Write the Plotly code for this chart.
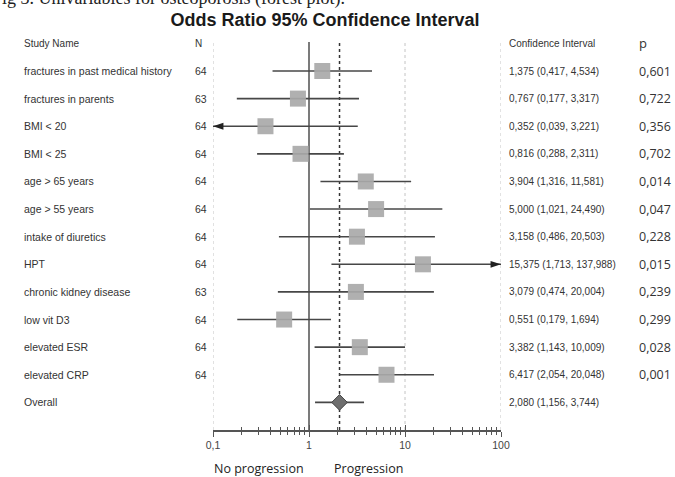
import plotly.graph_objects as go

# ---------------- data ----------------
studies = ["fractures in past medical history", "fractures in parents", "BMI < 20", "BMI < 25",
           "age > 65 years", "age > 55 years", "intake of diuretics", "HPT",
           "chronic kidney disease", "low vit D3", "elevated ESR", "elevated CRP"]
n_vals = [64, 63, 64, 64, 64, 64, 64, 64, 63, 64, 64, 64]
odds = [1.375, 0.767, 0.352, 0.816, 3.904, 5.000, 3.158, 15.375, 3.079, 0.551, 3.382, 6.417]
ci_low = [0.417, 0.177, 0.039, 0.288, 1.316, 1.021, 0.486, 1.713, 0.474, 0.179, 1.143, 2.054]
ci_high = [4.534, 3.317, 3.221, 2.311, 11.581, 24.490, 20.503, 137.988, 20.004, 1.694, 10.009, 20.048]
p_vals = ["0,601", "0,722", "0,356", "0,702", "0,014", "0,047", "0,228", "0,015",
          "0,239", "0,299", "0,028", "0,001"]
overall_label = "Overall"
overall_or = 2.080
overall_low = 1.156
overall_high = 3.744
null_value = 1
tick_vals = [0.1, 1, 10, 100]
tick_text = ["0,1", "1", "10", "100"]
headers = ["Study Name", "N", "Confidence Interval", "p"]
title_text = "Odds Ratio 95% Confidence Interval"
caption_text = "Fig 3. Univariables for osteoporosis (forest plot)."
left_label = "No progression"
right_label = "Progression"

x_min, x_max = 0.1, 100
minor_vals = [d * m for d in (0.1, 1, 10) for m in range(2, 10)]


def fmt(v):
    return f"{v:.3f}".replace(".", ",")


rows = list(range(1, len(studies) + 1))
overall_row = len(studies) + 1

LINE = "#474747"
TXT = "#333333"
SANS = "Liberation Sans, Arial, sans-serif"
OPEN = "Open Sans, sans-serif"

fig = go.Figure()

# CI lines
lx, ly = [], []
for r, lo, hi in zip(rows, ci_low, ci_high):
    lx += [lo, hi, None]
    ly += [r, r, None]
lx += [overall_low, overall_high, None]
ly += [overall_row, overall_row, None]
fig.add_trace(go.Scatter(x=lx, y=ly, mode="lines", line=dict(color=LINE, width=1.6),
                         hoverinfo="skip", showlegend=False))

# squares
fig.add_trace(go.Scatter(x=odds, y=rows, mode="markers",
                         marker=dict(symbol="square", size=16, color="#a9a9a9", opacity=0.92,
                                     line=dict(width=0)),
                         hoverinfo="skip", showlegend=False))

# overall diamond
fig.add_trace(go.Scatter(x=[overall_or], y=[overall_row], mode="markers",
                         marker=dict(symbol="diamond", size=12, color="#6e6e6e",
                                     line=dict(color="#444444", width=1)),
                         hoverinfo="skip", showlegend=False))

# arrows for CI beyond the axis range
ax_, ay_, aang = [], [], []
for r, lo, hi in zip(rows, ci_low, ci_high):
    if lo < x_min:
        ax_.append(x_min); ay_.append(r); aang.append(-90)
    if hi > x_max:
        ax_.append(x_max); ay_.append(r); aang.append(90)
fig.add_trace(go.Scatter(x=ax_, y=ay_, mode="markers", cliponaxis=False,
                         marker=dict(symbol="arrow", size=11, angle=aang, color="#222222",
                                     line=dict(width=0)),
                         hoverinfo="skip", showlegend=False))

# invisible trace on the overlay axis (for inside ticks)
fig.add_trace(go.Scatter(x=[overall_or], y=[overall_row], xaxis="x2", mode="markers",
                         marker=dict(opacity=0), hoverinfo="skip", showlegend=False))

# dotted guide lines at the decades (except the null line)
for tv in tick_vals:
    if tv != null_value:
        fig.add_shape(type="line", xref="x", yref="paper", x0=tv, x1=tv, y0=0, y1=1.005,
                      line=dict(color="#c4c4c4", width=1, dash="dot"), layer="below")
# reference lines
fig.add_shape(type="line", xref="x", yref="paper", x0=null_value, x1=null_value, y0=0, y1=1,
              line=dict(color="#5a5a5a", width=1.6), layer="below")
fig.add_shape(type="line", xref="x", yref="paper", x0=overall_or, x1=overall_or, y0=0, y1=1,
              line=dict(color="#333333", width=1.5, dash="dot"), layer="below")

# text columns
def px2paper(px):
    return (px - 213) / 288.0

anns = []
col_x = [px2paper(22), px2paper(193), px2paper(507), px2paper(637)]
for i, h in enumerate(headers):
    anns.append(dict(x=col_x[i], y=0, xref="paper", yref="y", text=h, showarrow=False,
                     xanchor="left", yanchor="middle",
                     font=dict(family=OPEN if i == 3 else SANS, size=13 if i == 3 else 10,
                               color=TXT)))
for r, s, n, o, lo, hi, p in zip(rows, studies, n_vals, odds, ci_low, ci_high, p_vals):
    anns.append(dict(x=col_x[0], y=r, xref="paper", yref="y", text=s, showarrow=False,
                     xanchor="left", yanchor="middle", font=dict(family=SANS, size=10.5, color=TXT)))
    anns.append(dict(x=col_x[1], y=r, xref="paper", yref="y", text=str(n), showarrow=False,
                     xanchor="left", yanchor="middle", font=dict(family=SANS, size=10.5, color=TXT)))
    anns.append(dict(x=col_x[2], y=r, xref="paper", yref="y",
                     text=f"{fmt(o)} ({fmt(lo)}, {fmt(hi)})", showarrow=False,
                     xanchor="left", yanchor="middle", font=dict(family=SANS, size=10, color=TXT)))
    anns.append(dict(x=col_x[3], y=r, xref="paper", yref="y", text=p, showarrow=False,
                     xanchor="left", yanchor="middle", font=dict(family=OPEN, size=12.5, color=TXT)))
anns.append(dict(x=col_x[0], y=overall_row, xref="paper", yref="y", text=overall_label,
                 showarrow=False, xanchor="left", yanchor="middle",
                 font=dict(family=SANS, size=10.5, color=TXT)))
anns.append(dict(x=col_x[2], y=overall_row, xref="paper", yref="y",
                 text=f"{fmt(overall_or)} ({fmt(overall_low)}, {fmt(overall_high)})",
                 showarrow=False, xanchor="left", yanchor="middle",
                 font=dict(family=SANS, size=10, color=TXT)))
anns.append(dict(x=px2paper(259), y=(430 - 468) / 388.0, xref="paper", yref="paper", text=left_label,
                 showarrow=False, xanchor="center", yanchor="middle",
                 font=dict(family=OPEN, size=12.5, color="#222222")))
anns.append(dict(x=px2paper(368), y=(430 - 468) / 388.0, xref="paper", yref="paper", text=right_label,
                 showarrow=False, xanchor="center", yanchor="middle",
                 font=dict(family=OPEN, size=12.5, color="#222222")))
anns.append(dict(x=px2paper(-10), y=1 + (42 + 1) / 388.0, xref="paper", yref="paper", text=caption_text,
                 showarrow=False, xanchor="left", yanchor="middle",
                 font=dict(family="Liberation Serif, Times New Roman, serif", size=18, color="#222222")))

axis_common = dict(type="log", range=[-1, 2], fixedrange=True, zeroline=False)
fig.update_layout(
    width=675, height=477,
    margin=dict(l=213, r=174, t=42, b=47, pad=0),
    paper_bgcolor="white", plot_bgcolor="white",
    title=dict(text=f"<b>{title_text}</b>", x=325 / 675.0, xref="container", xanchor="center",
               y=1 - 20 / 477.0, yref="container", yanchor="middle",
               font=dict(family=SANS, size=18, color="#1a1a1a")),
    xaxis=dict(**axis_common, showline=True, linecolor="#555555", linewidth=1.5,
               ticks="outside", ticklen=5, tickwidth=1.3, tickcolor="#555555",
               tickvals=tick_vals, ticktext=tick_text,
               tickfont=dict(family=SANS, size=10.5, color="#444444"),
               showgrid=False,
               minor=dict(tickvals=minor_vals, ticks="outside", ticklen=3, tickwidth=1,
                          tickcolor="#555555", showgrid=False)),
    xaxis2=dict(**axis_common, overlaying="x", anchor="y", side="bottom",
                showline=False, showgrid=False, showticklabels=False,
                ticks="inside", ticklen=5, tickwidth=1.3, tickcolor="#555555",
                tickvals=tick_vals,
                minor=dict(tickvals=minor_vals, ticks="inside", ticklen=3, tickwidth=1,
                           tickcolor="#555555", showgrid=False)),
    yaxis=dict(range=[overall_row + 1, -0.05], visible=False, fixedrange=True),
    annotations=anns,
    showlegend=False,
)

fig.write_html("out.html", config={"displayModeBar": False},
               post_script="document.body.style.margin='0';document.body.style.overflow='hidden';")
